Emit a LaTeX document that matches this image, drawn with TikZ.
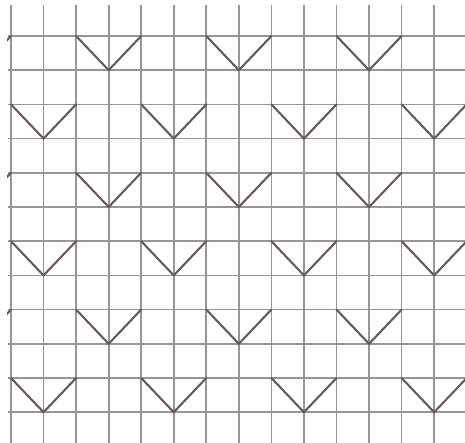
\documentclass[tikz,border=0pt]{standalone}
\definecolor{gridgray}{RGB}{150,150,150}
\definecolor{veecol}{RGB}{105,88,96}
\begin{document}
\begin{tikzpicture}[x=1pt,y=-1pt,
  gridline/.style={draw=gridgray,line width=1.7pt},
  vee/.style={draw=veecol,line width=2.1pt,line join=round,line cap=round}]
\useasboundingbox (0,0) rectangle (465,443);
\fill[white] (0,0) rectangle (465,443);
% vertical grid lines
\foreach \i in {0,...,13}
  \draw[gridline] ({11+32.55*\i},5) -- ({11+32.55*\i},443);
% horizontal grid lines
\foreach \j in {0,...,11}
  \draw[gridline] (8,{36+34.2*\j}) -- (465,{36+34.2*\j});
% chevrons
\begin{scope}
\clip (7,5) rectangle (465,443);
\foreach \k in {0,...,5}{
  \pgfmathtruncatemacro{\kpar}{mod(\k,2)}
  \ifnum\kpar=0
    \foreach \s in {-2,2,6,10}{
      \draw[vee] ({11+32.55*\s},{36+68.4*\k}) -- ({11+32.55*(\s+1)},{36+68.4*\k+34.2}) -- ({11+32.55*(\s+2)},{36+68.4*\k});
    }
  \else
    \foreach \s in {0,4,8,12}{
      \draw[vee] ({11+32.55*\s},{36+68.4*\k}) -- ({11+32.55*(\s+1)},{36+68.4*\k+34.2}) -- ({11+32.55*(\s+2)},{36+68.4*\k});
    }
  \fi
}
\end{scope}
\end{tikzpicture}
\end{document}
